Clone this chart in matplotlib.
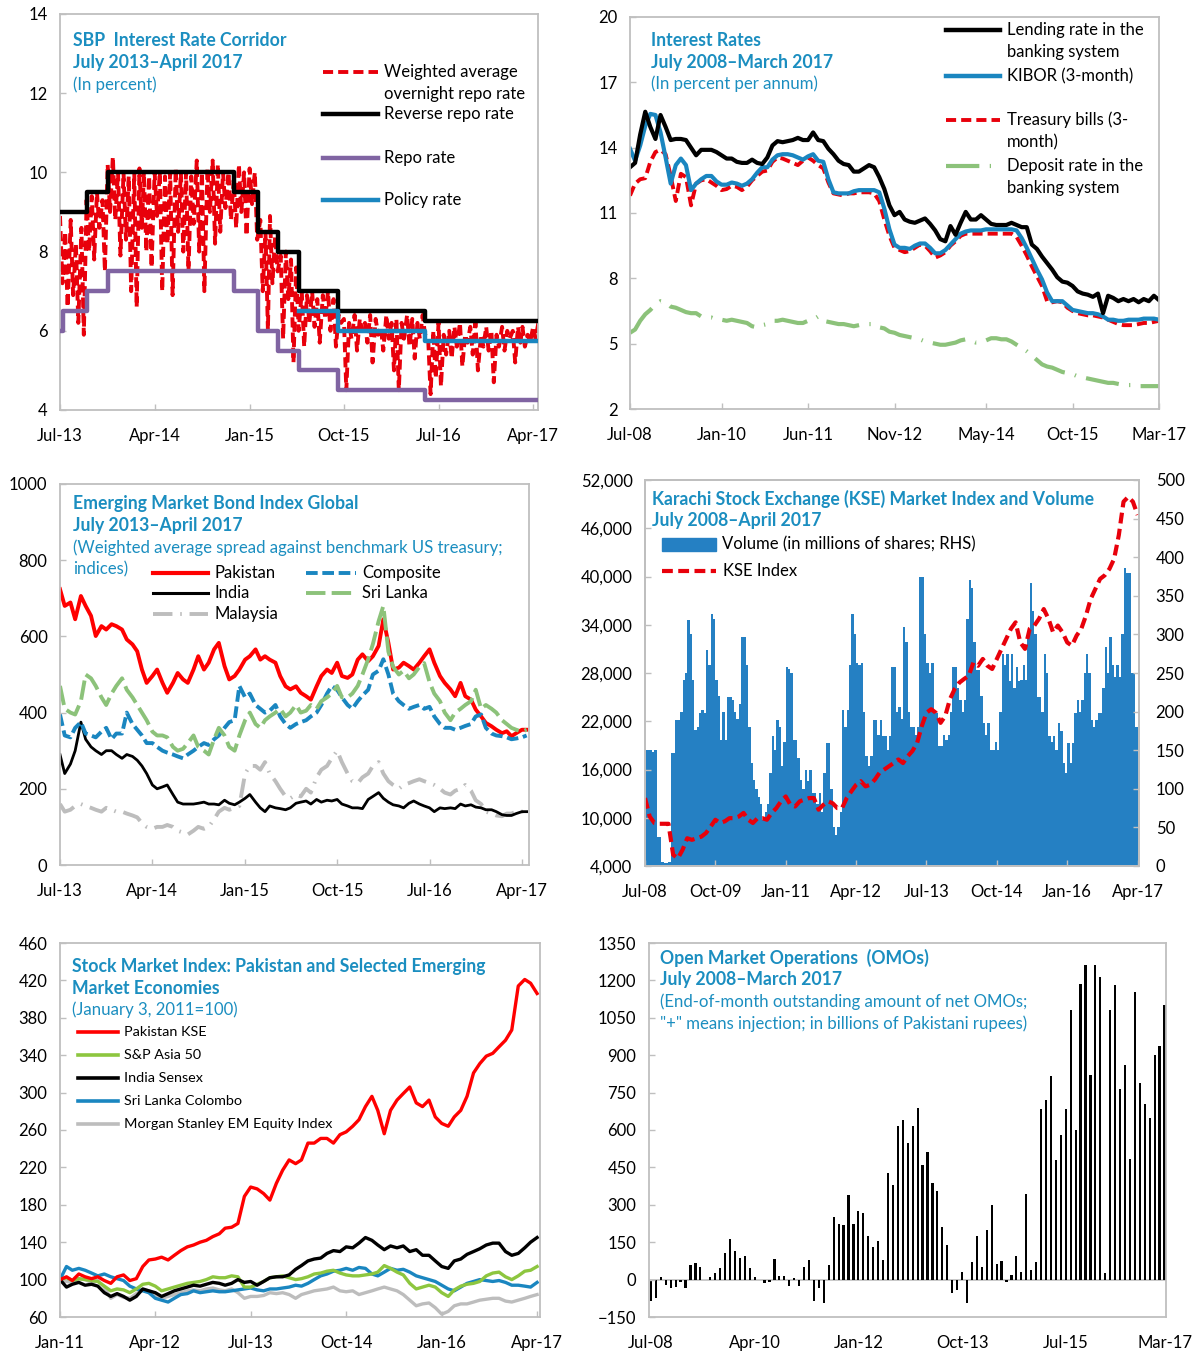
import numpy as np
import pandas as pd
import matplotlib
matplotlib.use("Agg")
import matplotlib.pyplot as plt
from matplotlib.patches import Rectangle
from matplotlib.ticker import FuncFormatter

plt.rcParams['font.family'] = ['Lato', 'DejaVu Sans']

# ---------------- data ----------------
# panel 1: SBP interest rate corridor (weekly readings of the overnight rate)
onrepo = [8.9, 7.2, 8.5, 6.6, 8.8, 6.9, 8.2, 6.2, 8.6, 5.9, 9.3, 8.0,
          9.4, 7.8, 9.5, 8.6, 9.3, 7.5, 10.2, 9.0, 10.4, 8.8, 10.0, 7.9,
          10.0, 8.3, 9.9, 7.0, 10.0, 6.6, 10.1, 8.6, 10.0, 8.0, 9.9, 7.6,
          10.0, 8.9, 10.0, 7.0, 9.9, 8.2, 10.0, 6.9, 10.1, 8.5, 10.0, 8.0,
          10.0, 7.5, 9.9, 8.7, 10.3, 8.0, 10.0, 7.0, 10.1, 9.0, 10.3, 8.2,
          10.2, 8.5, 10.0, 9.1, 10.0, 8.8, 9.8, 8.6, 10.2, 9.0, 10.0, 8.4,
          10.1, 9.2, 10.0, 8.3, 8.8, 7.0, 8.5, 6.0, 8.9, 7.2, 8.4, 7.5,
          7.9, 5.8, 8.0, 6.8, 7.8, 5.2, 7.6, 6.0, 7.0, 5.6, 6.9, 6.2,
          7.0, 6.1, 6.8, 5.7, 6.9, 6.3, 7.0, 6.0, 6.8, 5.6, 6.4, 6.2,
          6.3, 4.5, 6.2, 5.8, 6.4, 5.5, 6.3, 6.0, 6.2, 5.7, 6.4, 5.2,
          6.3, 5.9, 6.1, 5.5, 6.4, 5.8, 6.2, 5.0, 6.3, 4.5, 6.2, 5.8,
          6.4, 5.6, 6.3, 5.3, 6.2, 5.8, 6.4, 5.9, 5.8, 4.4, 6.0, 4.8,
          6.2, 4.6, 5.9, 5.4, 6.0, 5.3, 6.1, 5.6, 6.2, 5.1, 5.9, 5.7,
          6.1, 5.4, 6.2, 5.0, 5.9, 5.6, 6.1, 5.5, 6.0, 4.7, 5.9, 5.6,
          6.1, 5.5, 6.0, 5.8, 6.0, 5.2, 6.1, 5.7, 6.1, 5.6, 5.9, 5.7,
          6.1, 5.8, 6.2]
corridor_dates = ['2013-07-01', '2013-09-16', '2013-11-18', '2014-11-17', '2015-01-26',
                  '2015-03-23', '2015-05-25', '2015-09-14', '2016-05-23', '2017-04-15']
reverse_repo = [9.0, 9.5, 10.0, 9.5, 8.5, 8.0, 7.0, 6.5, 6.25, 6.25]
repo_dates = ['2013-07-01', '2013-07-10', '2013-09-16', '2013-11-18', '2014-11-17', '2015-01-26',
              '2015-03-23', '2015-05-25', '2015-09-14', '2016-05-23', '2017-04-15']
repo_rate = [6.0, 6.5, 7.0, 7.5, 7.0, 6.0, 5.5, 5.0, 4.5, 4.25, 4.25]
policy_dates = ['2015-05-25', '2015-09-14', '2016-05-23', '2017-04-15']
policy_rate = [6.5, 6.0, 5.75, 5.75]

# panel 2: interest rates, monthly Jul-08 .. Mar-17
lending = [13.1, 13.3, 14.6, 15.65, 14.95, 14.4, 15.5, 14.95, 14.35, 14.4,
           14.4, 14.35, 14.0, 13.65, 13.9, 13.9, 13.9, 13.8, 13.65, 13.5,
           13.5, 13.35, 13.3, 13.3, 13.45, 13.3, 13.25, 13.55, 14.1, 14.3,
           14.25, 14.3, 14.35, 14.45, 14.35, 14.35, 14.7, 14.35, 14.3, 13.95,
           13.7, 13.4, 13.25, 13.2, 12.9, 12.9, 13.05, 13.2, 13.1, 12.65,
           12.1, 11.35, 10.9, 11.05, 10.7, 10.6, 10.55, 10.65, 10.75, 10.5,
           10.2, 9.8, 9.7, 10.4, 10.0, 10.55, 11.05, 10.7, 10.7, 10.9,
           10.7, 10.5, 10.45, 10.45, 10.45, 10.55, 10.45, 10.35, 10.35, 9.55,
           9.35, 9.0, 8.7, 8.4, 8.05, 7.85, 7.8, 7.65, 7.4, 7.3,
           7.25, 7.15, 7.3, 6.4, 7.2, 7.1, 6.95, 7.05, 6.95, 7.05,
           6.9, 7.05, 6.95, 7.2, 7.0]
kibor = [13.95, 13.4, 14.1, 15.0, 15.55, 15.5, 14.7, 13.55, 12.35, 13.2,
         13.5, 13.2, 12.05, 12.35, 12.55, 12.7, 12.7, 12.45, 12.3, 12.3,
         12.4, 12.35, 12.25, 12.35, 12.55, 12.85, 13.1, 13.1, 13.45, 13.65,
         13.7, 13.7, 13.65, 13.55, 13.45, 13.6, 13.7, 13.4, 13.35, 12.55,
         11.95, 11.9, 11.9, 11.9, 12.0, 12.05, 12.05, 12.05, 12.05, 11.95,
         11.2, 10.25, 9.55, 9.4, 9.4, 9.35, 9.5, 9.6, 9.6, 9.4,
         9.15, 9.15, 9.3, 9.55, 9.8, 10.05, 10.15, 10.2, 10.2, 10.2,
         10.25, 10.25, 10.25, 10.25, 10.25, 10.25, 10.2, 9.85, 9.4, 8.9,
         8.4, 7.95, 7.35, 6.95, 6.95, 6.95, 6.75, 6.55, 6.5, 6.45,
         6.4, 6.4, 6.35, 6.25, 6.1, 6.1, 6.05, 6.05, 6.1, 6.1,
         6.1, 6.15, 6.15, 6.15, 6.1]
tbills = [11.8, 12.35, 12.55, 12.6, 13.35, 13.8, 13.9, 13.7, 12.7, 11.55,
          12.8, 12.65, 11.35, 12.35, 12.5, 12.55, 12.4, 12.25, 12.05, 12.1,
          12.25, 12.2, 12.05, 12.2, 12.5, 12.7, 12.9, 12.95, 13.35, 13.55,
          13.5, 13.4, 13.3, 13.2, 13.4, 13.55, 13.4, 13.2, 13.05, 12.4,
          11.9, 11.85, 11.8, 11.9, 11.9, 11.95, 11.95, 11.95, 11.9, 11.55,
          10.7, 9.95, 9.4, 9.3, 9.2, 9.25, 9.4, 9.55, 9.5, 9.25,
          8.95, 9.05, 9.2, 9.5, 9.7, 9.95, 10.05, 10.05, 10.05, 10.05,
          10.05, 10.05, 10.05, 10.05, 10.05, 10.05, 9.9, 9.5, 9.05, 8.55,
          8.1, 7.65, 6.95, 6.9, 6.95, 6.9, 6.65, 6.5, 6.4, 6.35,
          6.3, 6.3, 6.25, 6.2, 6.1, 6.0, 5.9, 5.85, 5.85, 5.85,
          5.9, 5.95, 5.95, 6.0, 6.05]
deposit = [5.5, 5.65, 6.05, 6.35, 6.55, 6.8, 6.95, 6.9, 6.7, 6.65,
           6.55, 6.45, 6.4, 6.4, 6.25, 6.2, 6.2, 6.1, 6.1, 6.05,
           6.1, 6.05, 6.0, 5.95, 5.8, 5.75, 5.85, 5.9, 6.05, 6.05,
           6.1, 6.05, 6.0, 5.95, 5.95, 6.05, 6.1, 6.25, 6.05, 6.0,
           5.95, 5.9, 5.9, 5.85, 5.8, 5.85, 5.9, 5.9, 5.9, 5.75,
           5.7, 5.55, 5.5, 5.4, 5.35, 5.3, 5.25, 5.2, 5.1, 5.05,
           5.0, 4.95, 4.95, 5.0, 5.05, 5.15, 5.2, 5.15, 5.05, 5.05,
           5.15, 5.25, 5.25, 5.2, 5.2, 5.1, 4.95, 4.8, 4.65, 4.45,
           4.25, 4.05, 3.95, 3.9, 3.8, 3.7, 3.65, 3.6, 3.5, 3.45,
           3.4, 3.35, 3.3, 3.25, 3.2, 3.2, 3.15, 3.1, 3.1, 3.1,
           3.05, 3.05, 3.05, 3.05, 3.05]

# panel 3: EMBI spreads, semi-monthly Jul-13 .. Apr-17
embi_pak = [724, 680, 689, 645, 706, 680, 654, 601, 627, 618, 632, 627,
            618, 592, 579, 561, 513, 478, 496, 513, 478, 452, 478, 504,
            487, 478, 513, 548, 513, 531, 566, 583, 522, 487, 496, 513,
            539, 548, 566, 539, 548, 539, 531, 496, 469, 461, 469, 452,
            443, 434, 469, 496, 513, 504, 531, 496, 491, 500, 539, 553,
            535, 548, 575, 645, 583, 513, 518, 531, 522, 513, 531, 548,
            566, 531, 496, 478, 461, 443, 478, 443, 434, 408, 390, 373,
            364, 355, 346, 351, 338, 346, 355, 355]
embi_ind = [290, 240, 265, 300, 375, 330, 310, 300, 290, 300, 300, 290,
            280, 290, 285, 275, 260, 240, 210, 200, 205, 210, 185, 165,
            160, 160, 160, 162, 165, 160, 160, 158, 170, 162, 158, 165,
            175, 185, 165, 150, 140, 155, 150, 148, 145, 150, 162, 165,
            168, 160, 172, 165, 170, 168, 172, 160, 155, 150, 150, 148,
            172, 180, 190, 175, 165, 158, 155, 150, 162, 168, 160, 155,
            150, 140, 150, 148, 150, 148, 160, 155, 158, 152, 150, 145,
            145, 140, 132, 130, 130, 135, 140, 140]
embi_comp = [395, 340, 335, 360, 375, 345, 340, 335, 350, 360, 330, 345,
             345, 400, 370, 355, 340, 320, 320, 310, 300, 295, 290, 285,
             280, 290, 300, 310, 320, 315, 330, 340, 360, 375, 380, 470,
             440, 450, 420, 410, 400, 405, 420, 390, 370, 360, 370, 375,
             380, 390, 400, 420, 450, 470, 460, 440, 420, 410, 430, 445,
             460, 500, 510, 540, 500, 450, 430, 420, 410, 415, 420, 410,
             415, 390, 370, 360, 360, 355, 360, 365, 370, 390, 395, 360,
             345, 340, 338, 335, 330, 332, 335, 340]
embi_sl = [470, 410, 400, 395, 430, 500, 490, 470, 440, 420, 450, 470,
           490, 460, 440, 420, 400, 380, 350, 340, 340, 335, 310, 300,
           305, 320, 340, 310, 300, 290, 330, 360, 340, 310, 300, 340,
           380, 400, 370, 360, 380, 390, 400, 410, 390, 400, 420, 400,
           405, 420, 410, 430, 440, 450, 470, 440, 440, 450, 470, 500,
           540, 580, 640, 680, 560, 520, 500, 510, 490, 500, 520, 530,
           480, 450, 430, 400, 380, 400, 410, 420, 430, 460, 410, 420,
           410, 400, 380, 370, 360, 355, 350, 355]
embi_my = [160, 140, 145, 155, 160, 155, 150, 145, 140, 150, 145, 140,
           140, 135, 130, 125, 110, 100, 95, 100, 100, 105, 100, 90,
           85, 80, 90, 100, 95, 100, 120, 140, 150, 145, 150, 155,
           240, 260, 260, 250, 270, 240, 220, 200, 180, 175, 185, 180,
           200, 190, 230, 250, 260, 280, 300, 270, 240, 220, 215, 230,
           240, 260, 270, 240, 220, 210, 200, 210, 215, 220, 225, 220,
           215, 210, 200, 190, 185, 195, 200, 210, 195, 170, 160, 140,
           135, 130, 128, 135, 135, 140, 140, 145]

# panel 4: KSE index (monthly) and volume (semi-monthly, millions of shares)
kse_index = [12450, 10150, 9350, 9250, 9250, 9250, 5400, 4950, 6000, 7450,
             7250, 7450, 7650, 8100, 8900, 9750, 9350, 9550, 9950, 9950,
             10150, 10600, 9750, 9350, 9950, 9950, 9750, 10600, 11200, 12050,
             12650, 11600, 11400, 12050, 12250, 12450, 12450, 11000, 11600, 12050,
             11800, 11200, 11200, 12450, 13300, 14100, 14550, 13900, 14100, 14750,
             15600, 16000, 16400, 16800, 17250, 16800, 17650, 18300, 19300, 21400,
             23050, 23500, 23050, 21800, 22650, 24750, 26000, 26800, 27250, 27650,
             29300, 28900, 29750, 28900, 28500, 29750, 31000, 32250, 33500, 34300,
             31800, 31000, 33500, 33900, 34750, 35950, 34750, 33050, 33900, 33050,
             31800, 31400, 32650, 33500, 35150, 37200, 38450, 39700, 40150, 40950,
             42200, 45150, 49300, 49900, 49300, 47650]
kse_volume = [150, 150, 150, 148, 150, 38, 38, 5, 4, 4, 5, 146, 146, 189, 189, 200, 241, 250, 319, 300,
              241, 176, 180, 198, 202, 198, 280, 260, 327, 320, 241, 220, 163, 200, 163, 219, 219, 215, 200, 190,
              210, 297, 297, 260, 180, 133, 111, 100, 90, 80, 60, 70, 80, 120, 168, 150, 189, 180, 130, 160,
              258, 255, 250, 163, 163, 140, 111, 100, 124, 110, 124, 94, 94, 80, 94, 70, 120, 159, 159, 100,
              51, 40, 51, 70, 202, 180, 202, 260, 327, 300, 263, 260, 263, 200, 142, 130, 142, 189, 189, 170,
              189, 168, 168, 150, 168, 258, 258, 200, 206, 190, 310, 290, 200, 180, 180, 170, 180, 375, 375, 300,
              263, 250, 263, 200, 198, 155, 155, 170, 163, 170, 200, 258, 258, 230, 215, 200, 215, 320, 370, 360,
              290, 254, 254, 220, 185, 170, 185, 150, 150, 160, 150, 200, 275, 260, 275, 240, 275, 230, 258, 240,
              241, 260, 241, 300, 366, 330, 300, 219, 219, 200, 275, 250, 168, 160, 168, 150, 185, 175, 133, 120,
              159, 133, 159, 198, 215, 200, 215, 250, 275, 250, 189, 180, 189, 198, 198, 230, 284, 250, 297, 260,
              245, 260, 245, 300, 386, 380, 380, 250, 250, 180, 142, 90]

# panel 5: stock market indices, monthly Jan-11 .. Apr-17 (Jan 3, 2011 = 100)
pak_kse = [100, 103, 99, 106, 103, 101, 103, 99, 96, 103, 105, 99,
           101, 114, 121, 122, 124, 121, 126, 131, 135, 137, 140, 142,
           146, 149, 155, 156, 160, 189, 199, 197, 192, 185, 203, 217,
           228, 224, 228, 246, 246, 251, 251, 246, 255, 258, 264, 271,
           285, 296, 281, 256, 281, 292, 299, 306, 289, 285, 292, 274,
           267, 264, 274, 281, 296, 321, 331, 339, 342, 349, 356, 367,
           414, 421, 417, 406]
sp_asia50 = [100, 102, 99, 101, 100, 99, 98, 93, 88, 90, 89, 86,
             90, 95, 96, 93, 88, 90, 92, 94, 96, 97, 98, 100,
             103, 102, 102, 104, 103, 92, 92, 95, 98, 102, 103, 104,
             102, 100, 101, 103, 106, 107, 109, 110, 107, 105, 104, 104,
             105, 106, 108, 115, 112, 108, 105, 96, 90, 92, 94, 92,
             86, 82, 89, 93, 95, 96, 98, 104, 107, 108, 103, 100,
             104, 109, 110, 114]
india_sensex = [100, 92, 95, 97, 94, 95, 93, 86, 82, 85, 82, 78,
                82, 90, 88, 86, 82, 85, 88, 90, 92, 94, 93, 95,
                97, 96, 94, 96, 100, 97, 98, 94, 98, 102, 103, 103,
                105, 111, 115, 120, 122, 123, 128, 131, 130, 135, 134, 139,
                145, 142, 137, 132, 136, 134, 136, 130, 132, 126, 126, 120,
                114, 112, 120, 122, 127, 130, 133, 137, 139, 139, 130, 126,
                128, 134, 140, 145]
srilanka_cse = [100, 114, 110, 112, 110, 107, 104, 106, 103, 101, 99, 93,
                90, 88, 86, 80, 78, 76, 80, 84, 85, 88, 86, 87,
                88, 87, 87, 88, 89, 90, 91, 89, 88, 90, 90, 91,
                92, 94, 93, 96, 100, 104, 106, 109, 110, 112, 110, 113,
                112, 106, 104, 108, 112, 110, 111, 108, 104, 102, 100, 98,
                94, 90, 88, 92, 96, 98, 100, 99, 98, 99, 97, 94,
                94, 93, 92, 97]
msci_em = [100, 98, 97, 101, 100, 97, 99, 92, 80, 84, 81, 80,
           85, 89, 88, 84, 80, 82, 84, 86, 88, 89, 88, 90,
           91, 89, 88, 90, 86, 80, 82, 82, 83, 86, 85, 86,
           84, 80, 84, 86, 88, 89, 90, 92, 88, 87, 88, 84,
           86, 88, 90, 92, 90, 88, 84, 78, 72, 74, 75, 70,
           63, 66, 72, 74, 74, 76, 78, 79, 80, 80, 77, 76,
           78, 80, 82, 84]

# panel 6: net OMOs, end of month, Jul-08 .. Mar-17
omo = [-85, -75, 12, -20, -33, -28, -8, -35, 60, 68,
       50, 0, 12, 25, 45, 107, 162, 113, 88, 93,
       45, 12, 0, -12, -8, 82, 15, 15, -25, 5,
       -25, 50, 80, -85, -33, -95, 57, 250, 225, 218,
       340, 225, 275, 268, 175, 132, 155, 80, 427, 380,
       615, 640, 548, 615, 690, 460, 510, 388, 355, 212,
       137, -55, -40, 30, -95, 70, 175, 50, 200, 300,
       63, 75, -8, 20, 95, 32, 345, 38, 70, 685,
       720, 815, 478, 580, 685, 1080, 600, 1185, 1260, 820,
       1260, 1215, 25, 1080, 1180, 765, 860, 485, 1155, 790,
       703, 650, 900, 935, 1100]

# ---------------- styling ----------------
W, H = 1196, 1353
TEAL = '#1B8EC0'
RED = '#E8000B'
BLUE = '#1A86C0'
VOLBLUE = '#2580C3'
PURPLE = '#8064A2'
GREEN = '#8CC27A'
LIME = '#8DC63F'
GRAY = '#BDBDBD'
SPINE = '#BFBFBF'

fig = plt.figure(figsize=(W / 100, H / 100), dpi=100)


def make_axes(left, top, right, bottom):
    return fig.add_axes([left / W, 1 - bottom / H, (right - left) / W, (bottom - top) / H])


def style(ax):
    for sp in ax.spines.values():
        sp.set_color(SPINE)
        sp.set_linewidth(1.3)
    ax.tick_params(direction='in', length=4, width=1, color=SPINE, labelsize=12)
    ax.tick_params(axis='y', pad=9)
    ax.tick_params(axis='x', pad=13)


def title_block(ax, x, y, bold, plain):
    step = 22 / (ax.get_position().height * H)
    lines = [(t, 'bold', 12.7) for t in bold] + [(t, 'normal', 12.1) for t in plain]
    for i, (t, wt, sz) in enumerate(lines):
        ax.text(x, y - i * step, t, transform=ax.transAxes, color=TEAL,
                fontsize=sz, fontweight=wt, va='center', ha='left')


def key(ax, x0, x1, y, lines, size=12, **kw):
    ax.plot([x0, x1], [y, y], transform=ax.transAxes, clip_on=False, **kw)
    step = 22 / (ax.get_position().height * H)
    for i, t in enumerate(lines):
        ax.text(x1 + 0.013, y - i * step, t, transform=ax.transAxes,
                fontsize=size, va='center', ha='left')


d = pd.to_datetime

# ---- panel 1 ----
ax1 = make_axes(60, 14, 538, 410)
month_starts = pd.date_range('2013-07-01', '2017-04-01', freq='MS')
onrepo_dates = [m + pd.Timedelta(days=k) for m in month_starts for k in (0, 7, 15, 22)][:len(onrepo)]
red_dash = dict(color=RED, lw=2.8, dashes=(2.6, 1.3))
ax1.plot(onrepo_dates, onrepo, zorder=2, **red_dash)
ax1.step(d(corridor_dates), reverse_repo, where='post', color='black', lw=3.2, zorder=3)
ax1.step(d(repo_dates), repo_rate, where='post', color=PURPLE, lw=3.2, zorder=3)
ax1.step(d(policy_dates), policy_rate, where='post', color=BLUE, lw=3.2, zorder=3)
ax1.set_ylim(4, 14)
ax1.set_yticks(range(4, 15, 2))
ax1.set_xlim(d('2013-07-01'), d('2017-04-15'))
ax1.set_xticks(d(['2013-07-01', '2014-04-01', '2015-01-01', '2015-10-01', '2016-07-01', '2017-04-01']))
ax1.set_xticklabels(['Jul-13', 'Apr-14', 'Jan-15', 'Oct-15', 'Jul-16', 'Apr-17'])
style(ax1)
title_block(ax1, 0.027, 0.932, ['SBP  Interest Rate Corridor', 'July 2013\u2013April 2017'], ['(In percent)'])
key(ax1, 0.55, 0.665, 0.854, ['Weighted average', 'overnight repo rate'], **red_dash)
key(ax1, 0.55, 0.665, 0.747, ['Reverse repo rate'], color='black', lw=3.2)
key(ax1, 0.55, 0.665, 0.636, ['Repo rate'], color=PURPLE, lw=3.2)
key(ax1, 0.55, 0.665, 0.530, ['Policy rate'], color=BLUE, lw=3.2)

# ---- panel 2 ----
ax2 = make_axes(630, 17, 1159, 409)
m2 = np.arange(len(lending))
dep_style = dict(color=GREEN, lw=3, dashes=(8, 2.5, 0.3, 2.5))
ax2.plot(m2, deposit, **dep_style)
ax2.plot(m2, tbills, **red_dash)
ax2.plot(m2, kibor, color=BLUE, lw=3)
ax2.plot(m2, lending, color='black', lw=3)
ax2.set_ylim(2, 20)
ax2.set_yticks(range(2, 21, 3))
ax2.set_xlim(0, 104)
ax2.set_xticks([0, 18, 35, 52, 70, 87, 104])
ax2.set_xticklabels(['Jul-08', 'Jan-10', 'Jun-11', 'Nov-12', 'May-14', 'Oct-15', 'Mar-17'])
style(ax2)
title_block(ax2, 0.04, 0.941, ['Interest Rates', 'July 2008\u2013March 2017'], ['(In percent per annum)'])
key(ax2, 0.597, 0.699, 0.967, ['Lending rate in the', 'banking system'], color='black', lw=3.2)
key(ax2, 0.597, 0.699, 0.849, ['KIBOR (3-month)'], color=BLUE, lw=3.2)
key(ax2, 0.597, 0.699, 0.737, ['Treasury bills (3-', 'month)'], **red_dash)
key(ax2, 0.597, 0.699, 0.620, ['Deposit rate in the', 'banking system'], **dep_style)

# ---- panel 3 ----
ax3 = make_axes(60, 484, 529, 865)
dates3 = pd.date_range('2013-07-01', periods=len(embi_pak), freq='SMS')
comp_style = dict(color=BLUE, lw=2.8, dashes=(3, 1.2))
sl_style = dict(color=GREEN, lw=2.8, dashes=(5, 1.6))
my_style = dict(color=GRAY, lw=2.8, dashes=(5, 2, 0.4, 2))
ax3.plot(dates3, embi_my, **my_style)
ax3.plot(dates3, embi_pak, color='#FF0000', lw=2.8)
ax3.plot(dates3, embi_ind, color='black', lw=2.0)
ax3.plot(dates3, embi_comp, **comp_style)
ax3.plot(dates3, embi_sl, **sl_style)
ax3.set_ylim(0, 1000)
ax3.set_yticks(range(0, 1001, 200))
ax3.set_xlim(d('2013-07-01'), d('2017-04-22'))
ax3.set_xticks(d(['2013-07-01', '2014-04-01', '2015-01-01', '2015-10-01', '2016-07-01', '2017-04-01']))
ax3.set_xticklabels(['Jul-13', 'Apr-14', 'Jan-15', 'Oct-15', 'Jul-16', 'Apr-17'])
style(ax3)
title_block(ax3, 0.028, 0.948, ['Emerging Market Bond Index Global', 'July 2013\u2013April 2017'],
            ['(Weighted average spread against benchmark US treasury;', 'indices)'])
key(ax3, 0.198, 0.316, 0.766, ['Pakistan'], color='#FF0000', lw=3)
key(ax3, 0.198, 0.316, 0.714, ['India'], color='black', lw=2.2)
key(ax3, 0.198, 0.316, 0.659, ['Malaysia'], **my_style)
key(ax3, 0.524, 0.631, 0.766, ['Composite'], **comp_style)
key(ax3, 0.524, 0.631, 0.714, ['Sri Lanka'], **sl_style)

# ---- panel 4 ----
ax4 = make_axes(645, 480, 1139, 866)
ax4r = ax4.twinx()
ax4r.set_zorder(ax4.get_zorder() - 1)
ax4.patch.set_visible(False)
xv = np.arange(len(kse_volume)) * 0.5
ax4r.bar(xv, kse_volume, width=0.5, align='edge', color=VOLBLUE, linewidth=0)
ax4.plot(np.arange(len(kse_index)), kse_index, color=RED, lw=3, dashes=(2.6, 1.3))
ax4.set_ylim(4000, 52000)
ax4.set_yticks(range(4000, 52001, 6000))
ax4.yaxis.set_major_formatter(FuncFormatter(lambda v, p: f'{int(v):,}'))
ax4r.set_ylim(0, 500)
ax4r.set_yticks(range(0, 501, 50))
for a in (ax4, ax4r):
    a.set_xlim(0, 105.3)
    style(a)
ax4r.tick_params(axis='y', pad=12)
ax4.set_xticks([0, 15, 30, 45, 60, 75, 90, 105])
ax4.set_xticklabels(['Jul-08', 'Oct-09', 'Jan-11', 'Apr-12', 'Jul-13', 'Oct-14', 'Jan-16', 'Apr-17'])
title_block(ax4, 0.014, 0.951, ['Karachi Stock Exchange (KSE) Market Index and Volume',
                                'July 2008\u2013April 2017'], [])
ax4.add_patch(Rectangle((0.034, 0.817), 0.11, 0.034, transform=ax4.transAxes,
                        color=VOLBLUE, clip_on=False))
ax4.text(0.156, 0.834, 'Volume (in millions of shares; RHS)', transform=ax4.transAxes,
         fontsize=12, va='center')
key(ax4, 0.034, 0.144, 0.764, ['KSE Index'], color=RED, lw=3, dashes=(2.6, 1.3))

# ---- panel 5 ----
ax5 = make_axes(60, 943, 540, 1317)
dates5 = pd.date_range('2011-01-01', periods=len(pak_kse), freq='MS')
ax5.plot(dates5, msci_em, color=GRAY, lw=2.4)
ax5.plot(dates5, srilanka_cse, color=BLUE, lw=2.4)
ax5.plot(dates5, sp_asia50, color=LIME, lw=2.4)
ax5.plot(dates5, india_sensex, color='black', lw=2.4)
ax5.plot(dates5, pak_kse, color='#FF0000', lw=2.4)
ax5.set_ylim(60, 460)
ax5.set_yticks(range(60, 461, 40))
ax5.set_xlim(d('2011-01-01'), d('2017-04-15'))
ax5.set_xticks(d(['2011-01-01', '2012-04-01', '2013-07-01', '2014-10-01', '2016-01-01', '2017-04-01']))
ax5.set_xticklabels(['Jan-11', 'Apr-12', 'Jul-13', 'Oct-14', 'Jan-16', 'Apr-17'])
style(ax5)
title_block(ax5, 0.025, 0.9385, ['Stock Market Index: Pakistan and Selected Emerging', 'Market Economies'],
            ['(January 3, 2011=100)'])
names5 = ['Pakistan KSE', 'S&P Asia 50', 'India Sensex', 'Sri Lanka Colombo', 'Morgan Stanley EM Equity Index']
colors5 = ['#FF0000', LIME, 'black', BLUE, GRAY]
for i, (nm, c) in enumerate(zip(names5, colors5)):
    key(ax5, 0.0375, 0.121, 0.762 - i * 0.0615, [nm], size=10.4, color=c, lw=2.6)

# ---- panel 6 ----
ax6 = make_axes(649, 943, 1166, 1317)
ax6.axhline(0, color=SPINE, lw=1.2, zorder=0)
ax6.bar(np.arange(len(omo)), omo, width=0.45, color='black')
ax6.set_ylim(-150, 1350)
ax6.set_yticks(range(-150, 1351, 150))
ax6.set_xlim(-0.4, 104.3)
ax6.set_xticks([0, 21, 42, 63, 84, 104])
ax6.set_xticklabels(['Jul-08', 'Apr-10', 'Jan-12', 'Oct-13', 'Jul-15', 'Mar-17'])
style(ax6)
ax6.tick_params(axis='x', length=0)
title_block(ax6, 0.021, 0.960, ['Open Market Operations  (OMOs)', 'July 2008\u2013March 2017'],
            ['(End-of-month outstanding amount of net OMOs;',
             '"+" means injection; in billions of Pakistani rupees)'])

fig.savefig('out.png', dpi=100)
